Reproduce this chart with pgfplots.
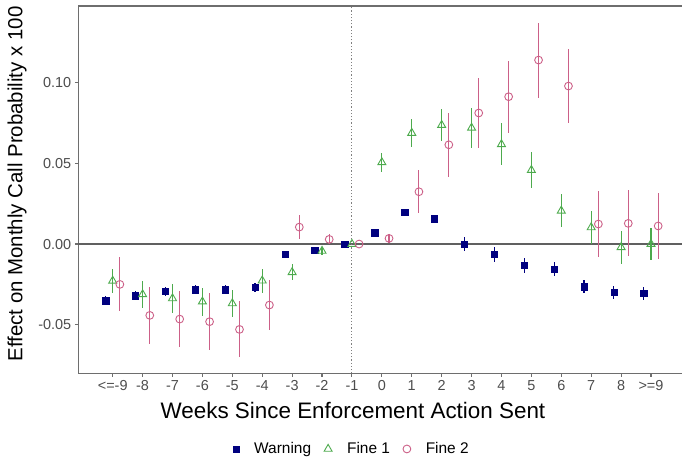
\documentclass[border=0pt]{standalone}
\usepackage{fontspec}
\setmainfont{Liberation Sans}
\usepackage{pgfplots}
\pgfplotsset{compat=1.18}
\usepackage{pgfplotstable}

\definecolor{warn}{HTML}{00007F}
\definecolor{fineone}{HTML}{4DAA4D}
\definecolor{finetwo}{HTML}{CC6088}
\definecolor{axgray}{HTML}{6E6E6E}
\definecolor{ticktext}{HTML}{4D4D4D}

% i = category index (0 = <=-9, 8 = -1, 18 = >=9)
\pgfplotstableread{
i v e
0 -0.0350 0.0028
1 -0.0320 0.0028
2 -0.0292 0.0028
3 -0.0283 0.0028
4 -0.0282 0.0028
5 -0.0268 0.0028
6 -0.0062 0.0020
7 -0.0040 0.0015
8 0.0000 0.0000
9 0.0070 0.0015
10 0.0196 0.0020
11 0.0158 0.0025
12 0.0000 0.0045
13 -0.0064 0.0045
14 -0.0133 0.0045
15 -0.0155 0.0042
16 -0.0264 0.0042
17 -0.0299 0.0040
18 -0.0305 0.0040
}\warning

\pgfplotstableread{
i v e
0 -0.0228 0.0076
1 -0.0312 0.0086
2 -0.0337 0.0088
3 -0.0357 0.0086
4 -0.0368 0.0085
5 -0.0227 0.0075
6 -0.0175 0.0050
7 -0.0043 0.0027
8 0.0000 0.0000
9 0.0506 0.0057
10 0.0688 0.0088
11 0.0737 0.0100
12 0.0720 0.0124
13 0.0618 0.0130
14 0.0458 0.0110
15 0.0206 0.0103
16 0.0103 0.0101
17 -0.0020 0.0103
18 0.0000 0.0098
}\fineone

\pgfplotstableread{
i v e
0 -0.0250 0.0167
1 -0.0442 0.0176
2 -0.0465 0.0176
3 -0.0481 0.0176
4 -0.0529 0.0173
5 -0.0378 0.0157
6 0.0105 0.0072
7 0.0029 0.0031
8 0.0000 0.0000
9 0.0035 0.0027
10 0.0324 0.0132
11 0.0615 0.0200
12 0.0812 0.0217
13 0.0913 0.0222
14 0.1140 0.0232
15 0.0979 0.0228
16 0.0124 0.0202
17 0.0128 0.0204
18 0.0112 0.0205
}\finetwo

\begin{document}
\begin{tikzpicture}
\path[use as bounding box] (-78.3bp,-85.7bp) rectangle (603.7bp,373.3bp);
\begin{axis}[
  at={(0,0)}, anchor=south west,
  scale only axis,
  width=605bp, height=367.3bp,
  xmin=-1.15, xmax=19.08,
  ymin=-0.0801, ymax=0.1475,
  axis line style={axgray, line width=1.1bp},
  xtick={0,...,18},
  xticklabels={{<=-9},-8,-7,-6,-5,-4,-3,-2,-1,0,1,2,3,4,5,6,7,8,{>=9}},
  ytick={-0.05,0,0.05,0.10},
  yticklabels={-0.05,0.00,0.05,0.10},
  xtick pos=bottom, ytick pos=left,
  tick align=outside,
  major tick length=3.5bp,
  tick style={axgray, line width=1.1bp},
  tick label style={font=\fontsize{14.5}{16}\selectfont, text=ticktext},
  xlabel={Weeks Since Enforcement Action Sent},
  ylabel={Effect on Monthly Call Probability x 100},
  xlabel style={font=\fontsize{22.5}{24}\selectfont, at={(rel axis cs:0.454,-0.0999)}, anchor=center},
  ylabel style={font=\fontsize{20.5}{22}\selectfont, at={(rel axis cs:-0.1013,0.5154)}, anchor=center},
  legend columns=3,
  legend style={at={(rel axis cs:0.452,-0.206)}, anchor=center, draw=none,
    fill=none, font=\fontsize{15.5}{17}\selectfont,
    /tikz/every odd column/.append style={column sep=13bp},
    /tikz/every even column/.append style={column sep=11bp}},
  legend cell align=left,
  clip=false,
]
\addplot[forget plot, color=gray!75!black, line width=1.2bp] coordinates {(-1.15,0) (19.08,0)};
\addplot[forget plot, color=gray, line width=1bp, dash pattern=on 1.2bp off 2bp] coordinates {(8,-0.0801) (8,0.1475)};

\addplot[only marks, mark=square*, mark size=3.2bp, color=warn,
  error bars/.cd, y dir=both, y explicit, error mark=none,
  error bar style={line width=1.1bp, color=warn}]
  table[x expr=\thisrow{i}-0.24, y=v, y error=e]{\warning};
\addlegendentry{Warning}

\addplot[only marks, mark=triangle, mark size=4.6bp, color=fineone,
  mark options={fill=none, line width=0.9bp},
  error bars/.cd, y dir=both, y explicit, error mark=none,
  error bar style={line width=1.1bp, color=fineone}]
  table[x=i, y=v, y error=e]{\fineone};
\addlegendentry{Fine 1}

\addplot[only marks, mark=o, mark size=3.9bp, color=finetwo,
  mark options={fill=none, line width=0.9bp},
  error bars/.cd, y dir=both, y explicit, error mark=none,
  error bar style={line width=1.1bp, color=finetwo}]
  table[x expr=\thisrow{i}+0.24, y=v, y error=e]{\finetwo};
\addlegendentry{Fine 2}
\end{axis}
\end{tikzpicture}
\end{document}
